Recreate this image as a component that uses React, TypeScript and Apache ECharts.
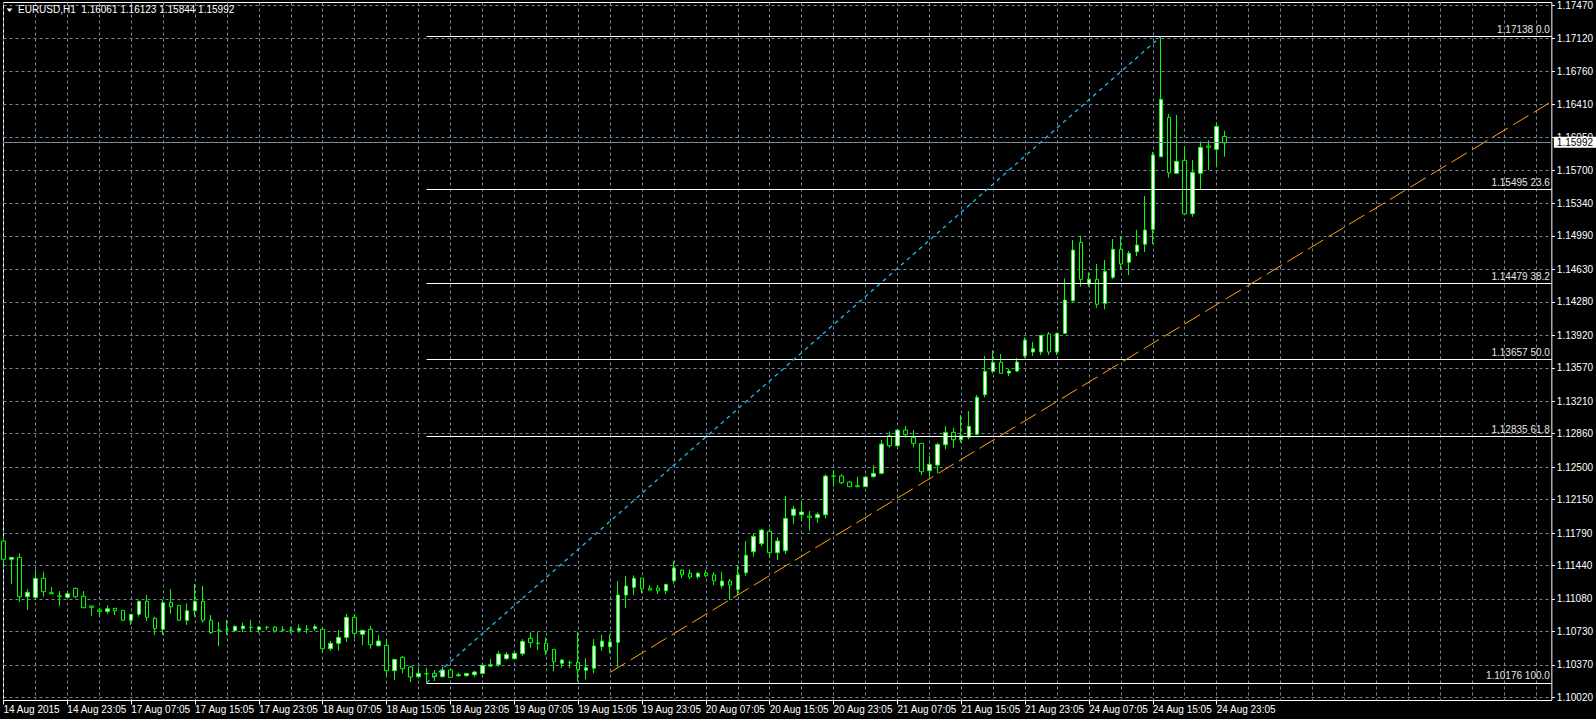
import React, { useEffect, useRef } from 'react';
import * as echarts from 'echarts';

const SYMBOL = 'EURUSD,H1';
const FONT = '"Liberation Sans", Arial, sans-serif';

// OHLC of hourly bars
const opens = [
  1.11704, 1.11507, 1.11528, 1.11104, 1.11097, 1.11302, 1.11147, 1.11111, 1.11097, 1.11194,
  1.11108, 1.11004, 1.10961, 1.10946, 1.10979, 1.10957, 1.10850, 1.10914, 1.11054, 1.10871,
  1.10753, 1.11043, 1.11011, 1.10850, 1.10953, 1.11054, 1.10850, 1.10745, 1.10748, 1.10737,
  1.10759, 1.10774, 1.10748, 1.10774, 1.10777, 1.10745, 1.10745, 1.10742, 1.10753, 1.10759,
  1.10753, 1.10544, 1.10602, 1.10666, 1.10882, 1.10699, 1.10753, 1.10576, 1.10580, 1.10307,
  1.10451, 1.10347, 1.10242, 1.10274, 1.10278, 1.10242, 1.10314, 1.10253, 1.10253, 1.10263,
  1.10278, 1.10357, 1.10371, 1.10436, 1.10436, 1.10490, 1.10656, 1.10605, 1.10602, 1.10537,
  1.10386, 1.10393, 1.10397, 1.10311, 1.10333, 1.10565, 1.10565, 1.10612, 1.11122, 1.11205,
  1.11305, 1.11197, 1.11197, 1.11168, 1.11276, 1.11391, 1.11356, 1.11319, 1.11359, 1.11338,
  1.11222, 1.11273, 1.11183, 1.11362, 1.11589, 1.11675, 1.11808, 1.11578, 1.11599, 1.11981,
  1.11987, 1.11973, 1.11955, 1.11987, 1.12404, 1.12404, 1.12339, 1.12299, 1.12289, 1.12396,
  1.12433, 1.12838, 1.12730, 1.12899, 1.12821, 1.12756, 1.12461, 1.12522, 1.12741, 1.12874,
  1.12795, 1.12821, 1.12853, 1.13280, 1.13532, 1.13629, 1.13513, 1.13535, 1.13697, 1.13740,
  1.13740, 1.13934, 1.13740, 1.13941, 1.14292, 1.14921, 1.14472, 1.14523, 1.14264, 1.14544,
  1.14846, 1.14706, 1.14820, 1.14900, 1.15061, 1.15843, 1.16268, 1.15665, 1.15805, 1.15229,
  1.15665, 1.15959, 1.15923, 1.16061,
];
const closes = [
  1.11507, 1.11528, 1.11104, 1.11151, 1.11302, 1.11158, 1.11136, 1.11109, 1.11136, 1.11104,
  1.10985, 1.10990, 1.10946, 1.10975, 1.10953, 1.10850, 1.10914, 1.11054, 1.10882, 1.10759,
  1.11039, 1.10996, 1.10850, 1.10953, 1.11054, 1.10850, 1.10718, 1.10737, 1.10748, 1.10785,
  1.10788, 1.10774, 1.10777, 1.10774, 1.10734, 1.10745, 1.10737, 1.10763, 1.10753, 1.10781,
  1.10544, 1.10602, 1.10666, 1.10882, 1.10709, 1.10742, 1.10587, 1.10627, 1.10307, 1.10429,
  1.10328, 1.10239, 1.10278, 1.10274, 1.10242, 1.10314, 1.10235, 1.10263, 1.10278, 1.10293,
  1.10365, 1.10371, 1.10487, 1.10483, 1.10494, 1.10623, 1.10609, 1.10598, 1.10522, 1.10404,
  1.10422, 1.10393, 1.10317, 1.10339, 1.10573, 1.10627, 1.10616, 1.11122, 1.11219, 1.11302,
  1.11190, 1.11176, 1.11168, 1.11237, 1.11413, 1.11341, 1.11316, 1.11356, 1.11330, 1.11276,
  1.11273, 1.11230, 1.11338, 1.11550, 1.11754, 1.11822, 1.11578, 1.11704, 1.11948, 1.12048,
  1.12016, 1.11959, 1.11992, 1.12404, 1.12404, 1.12332, 1.12289, 1.12289, 1.12393, 1.12433,
  1.12749, 1.12730, 1.12899, 1.12849, 1.12756, 1.12450, 1.12530, 1.12745, 1.12874, 1.12795,
  1.12838, 1.12939, 1.13252, 1.13532, 1.13629, 1.13510, 1.13535, 1.13632, 1.13869, 1.13775,
  1.13920, 1.13740, 1.13941, 1.14300, 1.14838, 1.14523, 1.14523, 1.14254, 1.14609, 1.14846,
  1.14688, 1.14803, 1.14892, 1.15054, 1.15862, 1.16462, 1.15671, 1.15794, 1.15229, 1.15675,
  1.15945, 1.15945, 1.16171, 1.15992,
];
const lows = [
  1.11453, 1.11241, 1.11050, 1.10961, 1.11068, 1.11104, 1.11134, 1.11007, 1.11093, 1.11087,
  1.10983, 1.10899, 1.10899, 1.10921, 1.10907, 1.10848, 1.10799, 1.10888, 1.10842, 1.10691,
  1.10691, 1.10921, 1.10848, 1.10799, 1.10888, 1.10824, 1.10702, 1.10573, 1.10691, 1.10727,
  1.10723, 1.10723, 1.10716, 1.10745, 1.10716, 1.10723, 1.10709, 1.10716, 1.10709, 1.10737,
  1.10501, 1.10522, 1.10522, 1.10619, 1.10656, 1.10583, 1.10544, 1.10565, 1.10242, 1.10206,
  1.10278, 1.10185, 1.10225, 1.10176, 1.10196, 1.10235, 1.10233, 1.10242, 1.10242, 1.10242,
  1.10271, 1.10350, 1.10350, 1.10422, 1.10429, 1.10468, 1.10555, 1.10530, 1.10476, 1.10303,
  1.10336, 1.10336, 1.10190, 1.10214, 1.10278, 1.10522, 1.10494, 1.10350, 1.10982, 1.11122,
  1.11140, 1.11168, 1.11133, 1.11133, 1.11248, 1.11302, 1.11294, 1.11297, 1.11313, 1.11230,
  1.11197, 1.11068, 1.11122, 1.11330, 1.11535, 1.11650, 1.11524, 1.11499, 1.11564, 1.11887,
  1.11923, 1.11815, 1.11901, 1.11948, 1.12289, 1.12318, 1.12287, 1.12282, 1.12287, 1.12394,
  1.12422, 1.12709, 1.12719, 1.12817, 1.12713, 1.12415, 1.12396, 1.12433, 1.12691, 1.12709,
  1.12763, 1.12799, 1.12842, 1.13252, 1.13510, 1.13508, 1.13481, 1.13524, 1.13675, 1.13697,
  1.13707, 1.13707, 1.13707, 1.13934, 1.14282, 1.14443, 1.14443, 1.14217, 1.14200, 1.14526,
  1.14631, 1.14569, 1.14774, 1.14817, 1.14903, 1.15841, 1.15617, 1.15663, 1.15227, 1.15197,
  1.15496, 1.15700, 1.15736, 1.15844,
];
const highs = [
  1.11758, 1.11530, 1.11571, 1.11187, 1.11391, 1.11373, 1.11208, 1.11165, 1.11143, 1.11201,
  1.11165, 1.11006, 1.10985, 1.11014, 1.10981, 1.10961, 1.10916, 1.11065, 1.11122, 1.10888,
  1.11068, 1.11187, 1.11013, 1.11032, 1.11241, 1.11219, 1.10907, 1.10831, 1.10853, 1.10796,
  1.10824, 1.10853, 1.10788, 1.10791, 1.10788, 1.10788, 1.10781, 1.10806, 1.10799, 1.10806,
  1.10755, 1.10627, 1.10745, 1.10917, 1.10917, 1.10744, 1.10788, 1.10691, 1.10645, 1.10431,
  1.10465, 1.10357, 1.10350, 1.10339, 1.10314, 1.10350, 1.10333, 1.10285, 1.10280, 1.10307,
  1.10371, 1.10433, 1.10519, 1.10508, 1.10519, 1.10648, 1.10720, 1.10720, 1.10666, 1.10539,
  1.10433, 1.10418, 1.10720, 1.10443, 1.10648, 1.10694, 1.10694, 1.11273, 1.11327, 1.11334,
  1.11307, 1.11230, 1.11230, 1.11239, 1.11492, 1.11399, 1.11399, 1.11370, 1.11391, 1.11366,
  1.11370, 1.11294, 1.11445, 1.11704, 1.11787, 1.11836, 1.11836, 1.11744, 1.12189, 1.12081,
  1.12135, 1.12027, 1.12013, 1.12422, 1.12469, 1.12422, 1.12350, 1.12396, 1.12407, 1.12522,
  1.12791, 1.12882, 1.12901, 1.12942, 1.12899, 1.12758, 1.12619, 1.12763, 1.12942, 1.12921,
  1.13061, 1.13104, 1.13277, 1.13697, 1.13758, 1.13718, 1.13557, 1.13675, 1.13898, 1.13847,
  1.13923, 1.13955, 1.13948, 1.14534, 1.14946, 1.14993, 1.14598, 1.14688, 1.14731, 1.14957,
  1.14982, 1.14828, 1.15054, 1.15420, 1.15897, 1.17138, 1.16303, 1.16293, 1.15959, 1.15808,
  1.16009, 1.16023, 1.16214, 1.16123,
];

// right-hand price scale labels
const yTicks = [
  1.1747, 1.1712, 1.1676, 1.1641, 1.1605, 1.157, 1.1534, 1.1499, 1.1463, 1.1428, 1.1392,
  1.1357, 1.1321, 1.1286, 1.125, 1.1215, 1.1179, 1.1144, 1.1108, 1.1073, 1.1037, 1.1002,
];

// Fibonacci retracement object
const fibLevels = [1.17138, 1.15495, 1.14479, 1.13657, 1.12835, 1.10176];
const fibNames = ['0.0', '23.6', '38.2', '50.0', '61.8', '100.0'];
const fibFrom = [53, 1.10176];
const fibTo = [145, 1.17138];

// orange trend line (ray)
const trendFrom = [76, 1.10289];
const trendTo = [194, 1.1644];

const TOTAL_SLOTS = 195; // bars plus empty chart shift area
const Y_MIN = 1.09986;
const Y_MAX = 1.17505;

const MONTHS = ['Jan', 'Feb', 'Mar', 'Apr', 'May', 'Jun', 'Jul', 'Aug', 'Sep', 'Oct', 'Nov', 'Dec'];

function buildCategories(n: number): string[] {
  const out: string[] = [];
  let t = Date.UTC(2015, 7, 14, 15, 5);
  while (out.length < n) {
    const d = new Date(t);
    const wd = d.getUTCDay();
    if (wd !== 0 && wd !== 6) {
      const day = `${d.getUTCDate()} ${MONTHS[d.getUTCMonth()]}`;
      const hh = String(d.getUTCHours()).padStart(2, '0');
      const mm = String(d.getUTCMinutes()).padStart(2, '0');
      out.push(out.length === 0 ? `${day} ${d.getUTCFullYear()}` : `${day} ${hh}:${mm}`);
    }
    t += 3600000;
  }
  return out;
}

const categories = buildCategories(TOTAL_SLOTS);

export default function App() {
  const ref = useRef<HTMLDivElement>(null);

  useEffect(() => {
    if (!ref.current) return;
    const chart = echarts.init(ref.current, undefined, { renderer: 'svg' });
    const n = opens.length;
    const last = n - 1;
    const fmt = (v: number) => v.toFixed(5);
    const labelEvery = (idx: number) => idx % 8 === 0 && idx < n;
    const gridLine = { color: '#778899', width: 1, type: [3, 3] as any };

    const option: any = {
      animation: false,
      backgroundColor: '#000000',
      title: {
        text: `${SYMBOL}  ${fmt(opens[last])} ${fmt(highs[last])} ${fmt(lows[last])} ${fmt(closes[last])}`,
        left: 18,
        top: 4,
        padding: 0,
        textStyle: { color: '#ffffff', fontSize: 10, fontWeight: 'normal', fontFamily: FONT },
      },
      graphic: [
        {
          type: 'polygon',
          shape: { points: [[6.5, 8.5], [12.5, 8.5], [9.5, 12]] },
          style: { fill: '#ffffff' },
          silent: true,
        },
      ],
      grid: {
        left: 3.5,
        right: 42.5,
        top: 2.5,
        bottom: 18.5,
        show: true,
        borderColor: '#ffffff',
        borderWidth: 1,
        backgroundColor: '#000000',
      },
      xAxis: {
        type: 'category',
        data: categories,
        boundaryGap: false,
        axisLine: { show: false },
        axisTick: { show: true, interval: labelEvery, length: 4, lineStyle: { color: '#ffffff' } },
        axisLabel: {
          interval: labelEvery,
          color: '#ffffff',
          fontSize: 10,
          fontFamily: FONT,
          align: 'left',
          margin: 4,
        },
        splitLine: { show: true, interval: 3, lineStyle: gridLine },
      },
      yAxis: {
        type: 'value',
        position: 'right',
        min: Y_MIN,
        max: Y_MAX,
        axisLine: { show: false },
        axisTick: { show: true, customValues: yTicks, length: 3, lineStyle: { color: '#ffffff' } },
        axisLabel: {
          customValues: yTicks,
          formatter: (v: number) => v.toFixed(5),
          color: '#ffffff',
          fontSize: 10,
          fontFamily: FONT,
          margin: 5,
        },
        splitLine: { show: true, lineStyle: gridLine },
      },
      series: [
        {
          type: 'candlestick',
          data: opens.map((o, i) => [o, closes[i], lows[i], highs[i]]),
          barWidth: 4,
          clip: false,
          itemStyle: {
            color: '#ffffff',
            color0: '#000000',
            borderColor: '#00ff00',
            borderColor0: '#00ff00',
            borderColorDoji: '#00ff00',
            borderWidth: 1,
          },
          markLine: {
            silent: true,
            symbol: ['none', 'none'],
            animation: false,
            data: [
              ...fibLevels.map((v, k) => [
                {
                  coord: [fibFrom[0], v],
                  lineStyle: { color: '#ffffff', width: 1, type: 'solid' },
                  label: {
                    show: true,
                    position: 'insideEndTop',
                    formatter: `${v.toFixed(5)} ${fibNames[k]}`,
                    color: '#e6e6e6',
                    fontSize: 10,
                    fontFamily: FONT,
                    distance: [2, 2],
                  },
                },
                { coord: [TOTAL_SLOTS - 1, v] },
              ]),
              [
                {
                  coord: fibFrom,
                  lineStyle: { color: '#22b8f5', width: 1.3, type: [4, 4] },
                  label: { show: false },
                },
                { coord: fibTo },
              ],
              [
                {
                  coord: trendFrom,
                  lineStyle: { color: '#ffa500', width: 1, type: [18, 6] },
                  label: { show: false },
                },
                { coord: trendTo },
              ],
              {
                yAxis: closes[last],
                lineStyle: { color: '#778899', width: 1, type: 'solid' },
                label: {
                  show: true,
                  position: 'end',
                  formatter: fmt(closes[last]),
                  color: '#000000',
                  backgroundColor: '#ffffff',
                  padding: [1, 4, 0, 3],
                  fontSize: 10,
                  fontFamily: FONT,
                  distance: 2,
                },
              },
            ],
          },
        },
      ],
    };

    chart.setOption(option);
    return () => chart.dispose();
  }, []);

  return (
    <div
      ref={ref}
      style={{ position: 'fixed', left: 0, top: 0, width: 1596, height: 719, background: '#000' }}
    />
  );
}
